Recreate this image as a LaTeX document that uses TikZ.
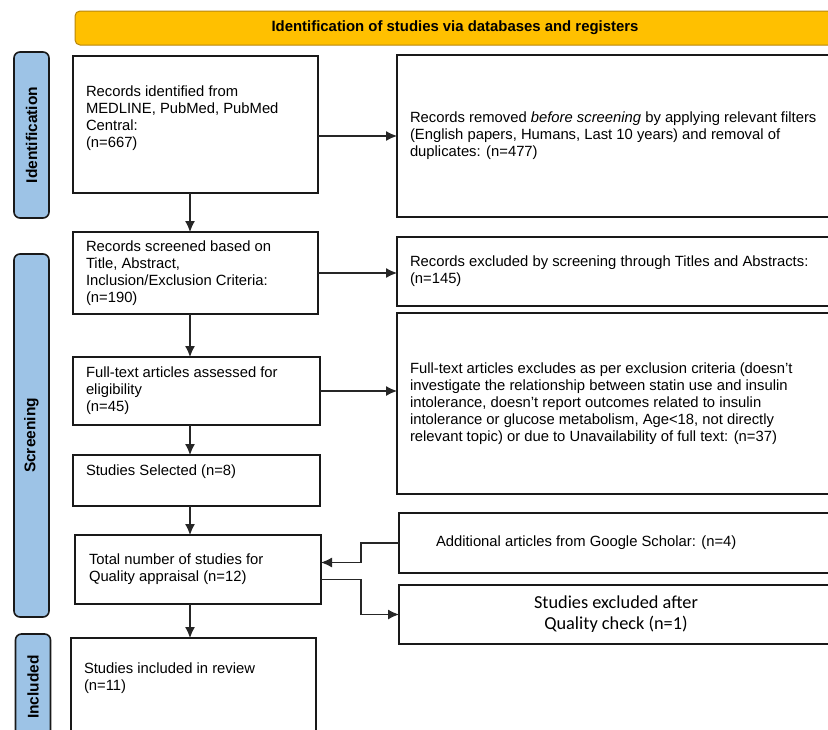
\documentclass[tikz,border=0pt]{standalone}
\usepackage{fontspec}
\setmainfont{Liberation Sans}
\newfontfamily\calfont{Carlito}
\usetikzlibrary{positioning,arrows.meta}
\definecolor{bannerfill}{HTML}{FFC000}
\definecolor{bannerdraw}{HTML}{B8860B}
\definecolor{phasefill}{HTML}{9DC3E6}
\newcommand{\boxtext}[4]{\parbox[c][#1][#2]{#3}{\raggedright #4}}

\begin{document}
\begin{tikzpicture}[x=1pt,y=-1pt,every node/.style={outer sep=0pt},box/.style={draw=black!90,line width=1.6pt,anchor=north west,inner xsep=13pt,inner ysep=0pt,font=\fontsize{14.8pt}{17pt}\selectfont},phase/.style={draw=black!90,fill=phasefill,line width=1.6pt,rounded corners=6pt,rotate=90,minimum height=35pt,inner sep=0pt,font=\bfseries\fontsize{15.5pt}{17pt}\selectfont},banner/.style={draw=bannerdraw,fill=bannerfill,line width=1pt,rounded corners=5pt,anchor=north west,minimum width=760pt,minimum height=34pt,font=\bfseries\fontsize{14.9pt}{16pt}\selectfont},arr/.style={draw=black!85,line width=1.1pt,-{Latex[length=11pt,width=10pt]}}]
\useasboundingbox (0,0) rectangle (828,729);
\clip (0,0) rectangle (828,729);
\node[banner] (head) at (75,11) {Identification of studies via databases and registers};
\node[phase,minimum width=166pt] (ident) at (31.5,135) {Identification};
\node[phase,minimum width=363pt] (screen) at (31.5,435.5) {Screening};
\node[phase,minimum width=106pt] (incl) at (33,687) {Included};
\node[box] (rec) at (73,56) {\boxtext{137pt}{t}{219pt}{\vspace*{30pt}Records identified from\\MEDLINE, PubMed, PubMed\\Central:\\(n=667)}};
\node[box] (removed) at (397,55) {\boxtext{162pt}{c}{410pt}{Records removed \textit{before screening} by applying relevant filters\\(English papers, Humans, Last 10 years) and removal of\\duplicates: (n=477)}};
\node[box] (screened) at (73,232) {\boxtext{82pt}{c}{219pt}{Records screened based on\\Title, Abstract,\\Inclusion/Exclusion Criteria:\\(n=190)}};
\node[box] (excl) at (397,237) {\boxtext{69pt}{c}{410pt}{Records excluded by screening through Titles and Abstracts:\\(n=145)}};
\node[box] (full) at (73,357) {\boxtext{68pt}{c}{221pt}{Full-text articles assessed for\\eligibility\\(n=45)}};
\node[box] (fullexcl) at (397,313) {\boxtext{181pt}{c}{410pt}{Full-text articles excludes as per exclusion criteria (doesn’t\\investigate the relationship between statin use and insulin\\intolerance, doesn’t report outcomes related to insulin\\intolerance or glucose metabolism, Age<18, not directly\\relevant topic) or due to Unavailability of full text: (n=37)}};
\node[box] (sel) at (73,455) {\boxtext{51pt}{t}{221pt}{\vspace*{10pt}Studies Selected (n=8)}};
\node[box,inner xsep=14pt] (qual) at (75,535) {\boxtext{69pt}{c}{218pt}{Total number of studies for\\Quality appraisal (n=12)}};
\node[box,inner xsep=37pt] (extra) at (399,513) {\boxtext{60pt}{c}{360pt}{Additional articles from Google Scholar: (n=4)}};
\node[box] (qexcl) at (399,585) {\boxtext{59pt}{c}{408pt}{\centering\calfont\fontsize{18.3pt}{21pt}\selectfont Studies excluded after\\Quality check (n=1)}};
\node[box] (incl) at (71,638) {\boxtext{100pt}{t}{219pt}{\vspace*{25pt}Studies included in review\\(n=11)}};
\coordinate (spine) at (190,0);
\draw[arr] (rec.south -| spine) -- (screened.north -| spine);
\draw[arr] (screened.south -| spine) -- (full.north -| spine);
\draw[arr] (full.south -| spine) -- (sel.north -| spine);
\draw[arr] (sel.south -| spine) -- (qual.north -| spine);
\draw[arr] (qual.south -| spine) -- (incl.north -| spine);
\draw[arr] (removed.west -| rec.east) -- (removed.west);
\draw[arr] (screened.east) -- (screened.east -| excl.west);
\draw[arr] (full.east) -- (full.east -| fullexcl.west);
\draw[arr] (extra.west) -- ++(-38,0) |- ([yshift=7pt]qual.east);
\draw[arr] ([yshift=-10pt]qual.east) -- ++(40,0) |- (qexcl.west);
\end{tikzpicture}
\end{document}
